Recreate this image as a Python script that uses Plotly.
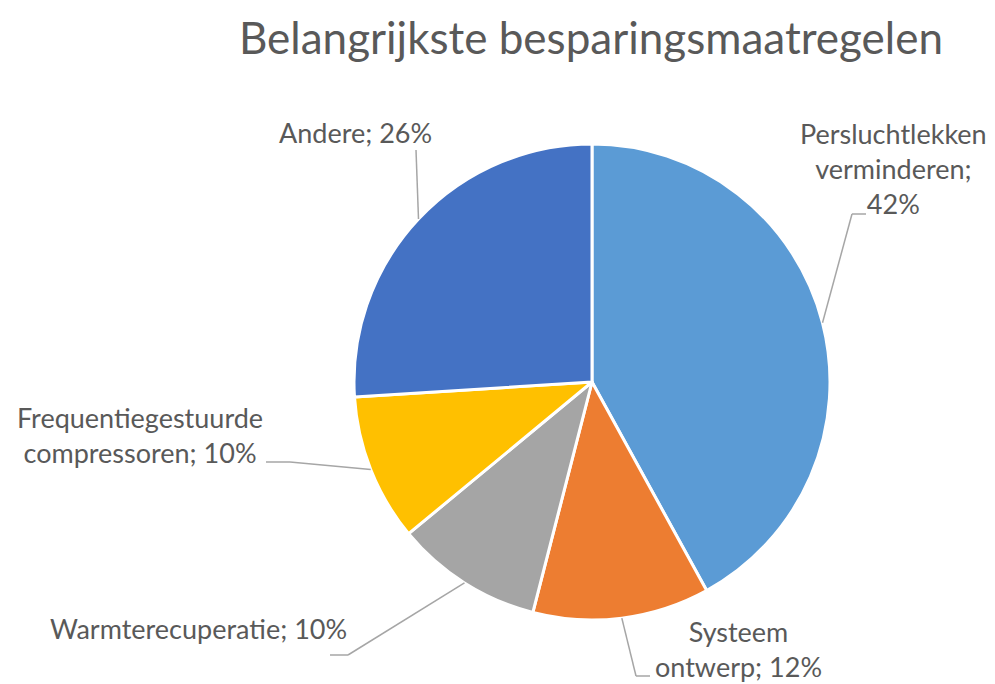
import numpy as np
import plotly.graph_objects as go

# ---- data ----
categories = ["Persluchtlekken verminderen", "Systeem ontwerp", "Warmterecuperatie",
              "Frequentiegestuurde compressoren", "Andere"]
values = [42, 12, 10, 10, 26]
colors = ["#5B9BD5", "#ED7D31", "#A5A5A5", "#FFC000", "#4472C4"]
title_text = "Belangrijkste besparingsmaatregelen"
# line-wrapping of each data label (word counts per line)
label_wrap = [[1, 1, 1], [1, 2], [2], [1, 2], [2]]

OFF = 8                     # page body margin
W, H = 995 - OFF, 684 - OFF  # figure size
CX, CY, R = 592, 382, 238   # pie placement in screen pixels
TXT = "#595959"
FONT = "Lato"

# label centre positions (screen pixels) and elbow/end points of leader lines
label_pos = [(893, 168), (738, 649), (198, 628), (140, 435), (355, 132)]
leader_pts = [[(852, 214), (866, 214)],
              [(636, 676), (650, 676)],
              [(348, 655), (330, 655)],
              [(290, 462), (266, 462)],
              [(416, 150)]]

def px2paper(x, y):
    return (x - OFF) / W, 1 - (y - OFF) / H

d0 = px2paper(CX - R, CY + R)
d1 = px2paper(CX + R, CY - R)
fig = go.Figure(go.Pie(
    labels=categories, values=values, sort=False, direction="clockwise", rotation=0,
    marker=dict(colors=colors, line=dict(color="white", width=3)),
    textinfo="none", hoverinfo="label+percent", showlegend=False,
    domain=dict(x=[d0[0], d1[0]], y=[d0[1], d1[1]]),
))

total = float(sum(values))
cum = np.cumsum([0] + values)
annotations = []
shapes = []
for i, (cat, val) in enumerate(zip(categories, values)):
    mid = (cum[i] + val / 2) / total * 2 * np.pi
    ax, ay = CX + R * np.sin(mid), CY - R * np.cos(mid)
    pts = [(ax, ay)] + leader_pts[i]
    for (x0, y0), (x1, y1) in zip(pts[:-1], pts[1:]):
        p0, p1 = px2paper(x0, y0), px2paper(x1, y1)
        shapes.append(dict(type="line", xref="paper", yref="paper",
                           x0=p0[0], y0=p0[1], x1=p1[0], y1=p1[1],
                           line=dict(color="#A6A6A6", width=1.5)))
    words = f"{cat}; {val}%".split(" ")
    lines, k = [], 0
    for n in label_wrap[i]:
        lines.append(" ".join(words[k:k + n]))
        k += n
    lx, ly = px2paper(*label_pos[i])
    annotations.append(dict(text="<br>".join(lines), x=lx, y=ly, xref="paper", yref="paper",
                            showarrow=False, xanchor="center", yanchor="middle", align="center",
                            font=dict(family=FONT, size=27, color=TXT)))

tx, ty = px2paper(591, 37)
annotations.append(dict(text=title_text, x=tx, y=ty, xref="paper", yref="paper",
                        showarrow=False, xanchor="center", yanchor="middle",
                        font=dict(family=FONT, size=44, color=TXT)))

fig.update_layout(width=W, height=H, margin=dict(l=0, r=0, t=0, b=0),
                  paper_bgcolor="white", plot_bgcolor="white",
                  annotations=annotations, shapes=shapes)
fig.write_html("out.html")
